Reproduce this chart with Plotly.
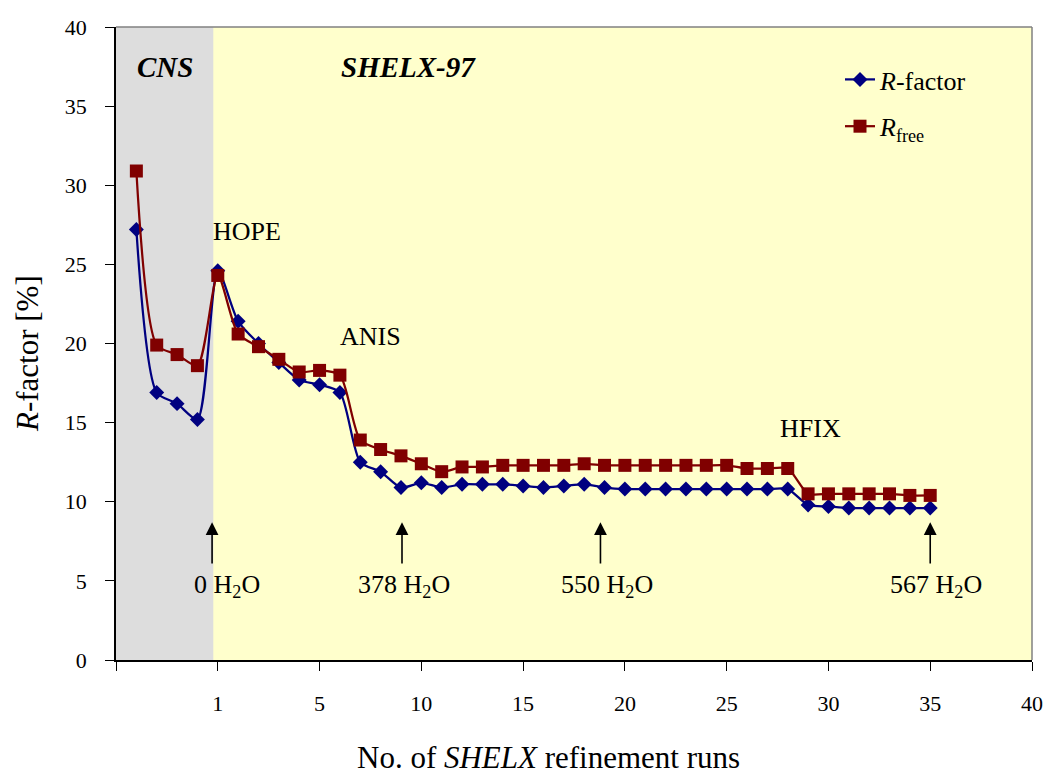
import plotly.graph_objects as go

# ---- data ----
runs = list(range(-4, 36))
r_factor = [27.2, 16.9, 16.2, 15.2,
            24.6, 21.4, 20.0, 18.8, 17.7, 17.4, 16.9, 12.5, 11.9, 10.9,
            11.2, 10.9, 11.1, 11.1, 11.1, 11.0, 10.9, 11.0, 11.1, 10.9,
            10.8, 10.8, 10.8, 10.8, 10.8, 10.8, 10.8, 10.8, 10.8,
            9.8, 9.7, 9.6, 9.6, 9.6, 9.6, 9.6]
r_free = [30.9, 19.9, 19.3, 18.6,
          24.3, 20.6, 19.8, 19.0, 18.2, 18.3, 18.0, 13.9, 13.3, 12.9,
          12.4, 11.9, 12.2, 12.2, 12.3, 12.3, 12.3, 12.3, 12.4, 12.3,
          12.3, 12.3, 12.3, 12.3, 12.3, 12.3, 12.1, 12.1, 12.1,
          10.5, 10.5, 10.5, 10.5, 10.5, 10.4, 10.4]
x_tickvals = [-5, 0, 5, 10, 15, 20, 25, 30, 35, 40]
x_ticktext = ["", "1", "5", "10", "15", "20", "25", "30", "35", "40"]
water_x = [-0.28, 9.05, 18.8, 35.0]
water_labels = ["0 H<sub>2</sub>O", "378 H<sub>2</sub>O", "550 H<sub>2</sub>O", "567 H<sub>2</sub>O"]
water_label_x = [0.45, 9.17, 19.1, 35.27]
step_labels = ["HOPE", "ANIS", "HFIX"]
step_x = [1.43, 7.52, 29.14]
step_y = [27.05, 20.47, 14.66]
program_labels = ["<b><i>CNS</i></b>", "<b><i>SHELX-97</i></b>"]
program_x = [-2.57, 9.37]
program_y = 37.5

FONT = "Liberation Serif, Times New Roman, serif"
BLUE = "#000080"
RED = "#800000"

fig = go.Figure()
fig.add_trace(go.Scatter(
    x=runs, y=r_factor, mode="lines+markers", name="<i>R</i>-factor",
    legendgroup="a",
    line=dict(color=BLUE, width=2.25, shape="spline", smoothing=0.7),
    marker=dict(symbol="diamond", size=11.5, color=BLUE)))
fig.add_trace(go.Scatter(
    x=runs, y=r_free, mode="lines+markers", name="<i>R</i><sub>free</sub>",
    legendgroup="b",
    line=dict(color=RED, width=2.25, shape="spline", smoothing=0.7),
    marker=dict(symbol="square", size=13, color=RED)))

# shaded CNS region
fig.add_shape(type="rect", xref="x", yref="y", x0=-5, x1=-0.22, y0=0, y1=40,
              fillcolor="#DDDDDD", line=dict(width=0), layer="below")
# top / right border
fig.add_shape(type="line", xref="paper", yref="paper", x0=0, x1=1, y0=1, y1=1,
              line=dict(color="#808080", width=1.5), layer="above")
fig.add_shape(type="line", xref="paper", yref="paper", x0=1, x1=1, y0=0, y1=1,
              line=dict(color="#808080", width=1.5), layer="above")

ann = []
for t, px in zip(program_labels, program_x):
    ann.append(dict(x=px, y=program_y, xref="x", yref="y", text=t,
                    showarrow=False, font=dict(family=FONT, size=29, color="black")))
for t, sx, sy in zip(step_labels, step_x, step_y):
    ann.append(dict(x=sx, y=sy, xref="x", yref="y", text=t, showarrow=False,
                    font=dict(family=FONT, size=26, color="black")))
for wx, wl, lx in zip(water_x, water_labels, water_label_x):
    ann.append(dict(x=wx, y=8.7, ax=wx, ay=6.0, xref="x", yref="y",
                    axref="x", ayref="y", text="", showarrow=True,
                    arrowhead=2, arrowsize=1.6, arrowwidth=1.6, arrowcolor="black"))
    ann.append(dict(x=lx, y=4.7, xref="x", yref="y", text=wl, showarrow=False,
                    font=dict(family=FONT, size=26, color="black")))
# axis titles
ann.append(dict(xref="paper", yref="paper", x=-(116 - 27) / 916, y=0.5 - (354 - 343.5) / 633,
                text="<i>R</i>-factor [%]", textangle=-90, showarrow=False,
                xanchor="center", yanchor="middle",
                font=dict(family=FONT, size=31, color="black")))
ann.append(dict(xref="paper", yref="paper", x=(548 - 116) / 916, y=-(757 - 660) / 633,
                text="No. of <i>SHELX</i> refinement runs", showarrow=False,
                xanchor="center", yanchor="middle",
                font=dict(family=FONT, size=31, color="black")))

fig.update_layout(
    annotations=ann,
    width=1045, height=776,
    margin=dict(l=116, r=13, t=27, b=116, autoexpand=False),
    paper_bgcolor="white", plot_bgcolor="#FFFFCC",
    font=dict(family=FONT, size=22, color="black"),
    showlegend=True,
    legend=dict(x=(840 - 116) / 916, y=1 - (56 - 27) / 633, xanchor="left", yanchor="top",
                bgcolor="rgba(0,0,0,0)", font=dict(family=FONT, size=26, color="black"),
                tracegroupgap=10),
    xaxis=dict(range=[-5, 40], tickmode="array", tickvals=x_tickvals, ticktext=x_ticktext,
               showgrid=False, zeroline=False, showline=True, linecolor="black", linewidth=1.5,
               ticks="outside", ticklen=9, tickcolor="black", tickwidth=1.2,
               ticklabelstandoff=14,
               tickfont=dict(family=FONT, size=22, color="black")),
    yaxis=dict(range=[0, 40], tickmode="linear", tick0=0, dtick=5,
               showgrid=False, zeroline=False, showline=True, linecolor="black", linewidth=1.5,
               ticks="outside", ticklen=9, tickcolor="black", tickwidth=1.2,
               ticklabelstandoff=14,
               tickfont=dict(family=FONT, size=22, color="black")),
)

fig.write_html("out.html")
